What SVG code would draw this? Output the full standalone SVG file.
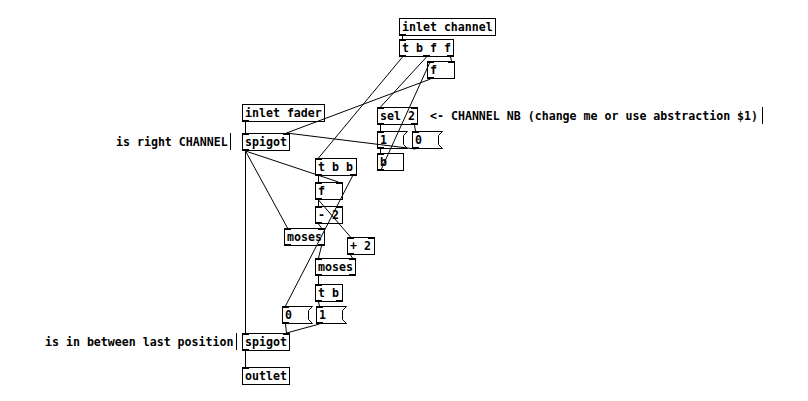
<svg xmlns="http://www.w3.org/2000/svg" width="808" height="401" viewBox="0 0 808 401">
<style>
.bx{fill:none;stroke:#000;stroke-width:1}
.io{fill:#000}
.t{font-family:"DejaVu Sans Mono","Liberation Mono",monospace;font-weight:bold;font-size:11.6px;fill:#000}
.c line{stroke:#000;stroke-width:1}
.bar{stroke:#000;stroke-width:1}
</style>
<rect width="808" height="401" fill="#fff"/>
<g class="c" id="connectors">
<line x1="402.5" y1="36" x2="402.5" y2="39"/>
<line x1="402.5" y1="57" x2="318.5" y2="158"/>
<line x1="426.5" y1="57" x2="380.5" y2="107"/>
<line x1="450.5" y1="57" x2="451.5" y2="61"/>
<line x1="430.5" y1="79" x2="286.5" y2="133"/>
<line x1="380.5" y1="171" x2="430.5" y2="61"/>
<line x1="245.5" y1="122" x2="245.5" y2="133"/>
<line x1="380.5" y1="125" x2="380.5" y2="131"/>
<line x1="414.5" y1="125" x2="415.5" y2="131"/>
<line x1="380.5" y1="149" x2="380.5" y2="153"/>
<line x1="415.5" y1="149" x2="286.5" y2="133"/>
<line x1="245.5" y1="151" x2="245.5" y2="333"/>
<line x1="245.5" y1="151" x2="287.5" y2="228"/>
<line x1="245.5" y1="151" x2="338.5" y2="182"/>
<line x1="318.5" y1="176" x2="318.5" y2="182"/>
<line x1="352.5" y1="176" x2="285.5" y2="306"/>
<line x1="318.5" y1="200" x2="318.5" y2="206"/>
<line x1="318.5" y1="200" x2="350.5" y2="237"/>
<line x1="318.5" y1="224" x2="321.5" y2="228"/>
<line x1="321.5" y1="246" x2="318.5" y2="258"/>
<line x1="350.5" y1="255" x2="352.5" y2="258"/>
<line x1="318.5" y1="276" x2="318.5" y2="284"/>
<line x1="318.5" y1="302" x2="319.5" y2="306"/>
<line x1="285.5" y1="324" x2="286.5" y2="333"/>
<line x1="319.5" y1="324" x2="286.5" y2="333"/>
<line x1="245.5" y1="351" x2="245.5" y2="367"/>
</g>
<g id="inlet_channel"><rect class="bx" x="399.5" y="18.5" width="96" height="17"/><rect class="io" x="399" y="34" width="7" height="2"/><text class="t" x="402" y="31">inlet channel</text></g>
<g id="t_bff"><rect class="bx" x="399.5" y="39.5" width="54" height="17"/><rect class="io" x="399" y="39" width="7" height="2"/><rect class="io" x="399" y="55" width="7" height="2"/><rect class="io" x="423" y="55" width="7" height="2"/><rect class="io" x="447" y="55" width="7" height="2"/><text class="t" x="402" y="52">t b f f</text></g>
<g id="f_top"><rect class="bx" x="427.5" y="61.5" width="27" height="17"/><rect class="io" x="427" y="61" width="7" height="2"/><rect class="io" x="448" y="61" width="7" height="2"/><rect class="io" x="427" y="77" width="7" height="2"/><text class="t" x="430" y="74">f</text></g>
<g id="inlet_fader"><rect class="bx" x="242.5" y="104.5" width="82" height="17"/><rect class="io" x="242" y="120" width="7" height="2"/><text class="t" x="245" y="117">inlet fader</text></g>
<g id="spigot_top"><rect class="bx" x="242.5" y="133.5" width="47" height="17"/><rect class="io" x="242" y="133" width="7" height="2"/><rect class="io" x="283" y="133" width="7" height="2"/><rect class="io" x="242" y="149" width="7" height="2"/><text class="t" x="245" y="146">spigot</text></g>
<g id="sel2"><rect class="bx" x="377.5" y="107.5" width="40" height="17"/><rect class="io" x="377" y="107" width="7" height="2"/><rect class="io" x="411" y="107" width="7" height="2"/><rect class="io" x="377" y="123" width="7" height="2"/><rect class="io" x="411" y="123" width="7" height="2"/><text class="t" x="380" y="120">sel 2</text></g>
<g id="msg1_top"><path class="bx" d="M377.5 131.5H407.5L403.5 135.5V144.5L407.5 148.5H377.5Z"/><rect class="io" x="377" y="131" width="7" height="2"/><rect class="io" x="377" y="147" width="7" height="2"/><text class="t" x="380" y="144">1</text></g>
<g id="msg0_top"><path class="bx" d="M412.5 131.5H442.5L438.5 135.5V144.5L442.5 148.5H412.5Z"/><rect class="io" x="412" y="131" width="7" height="2"/><rect class="io" x="412" y="147" width="7" height="2"/><text class="t" x="415" y="144">0</text></g>
<g id="bang"><rect class="bx" x="377.5" y="153.5" width="26" height="17"/><rect class="io" x="377" y="153" width="7" height="2"/><rect class="io" x="377" y="169" width="7" height="2"/><text class="t" x="380" y="166">b</text></g>
<g id="t_bb"><rect class="bx" x="315.5" y="158.5" width="41" height="17"/><rect class="io" x="315" y="158" width="7" height="2"/><rect class="io" x="315" y="174" width="7" height="2"/><rect class="io" x="350" y="174" width="7" height="2"/><text class="t" x="318" y="171">t b b</text></g>
<g id="f_mid"><rect class="bx" x="315.5" y="182.5" width="27" height="17"/><rect class="io" x="315" y="182" width="7" height="2"/><rect class="io" x="336" y="182" width="7" height="2"/><rect class="io" x="315" y="198" width="7" height="2"/><text class="t" x="318" y="195">f</text></g>
<g id="minus2"><rect class="bx" x="315.5" y="206.5" width="27" height="17"/><rect class="io" x="315" y="206" width="7" height="2"/><rect class="io" x="336" y="206" width="7" height="2"/><rect class="io" x="315" y="222" width="7" height="2"/><text class="t" x="318" y="219">- 2</text></g>
<g id="moses_left"><rect class="bx" x="284.5" y="228.5" width="40" height="17"/><rect class="io" x="284" y="228" width="7" height="2"/><rect class="io" x="318" y="228" width="7" height="2"/><rect class="io" x="284" y="244" width="7" height="2"/><rect class="io" x="318" y="244" width="7" height="2"/><text class="t" x="287" y="241">moses</text></g>
<g id="plus2"><rect class="bx" x="347.5" y="237.5" width="27" height="17"/><rect class="io" x="347" y="237" width="7" height="2"/><rect class="io" x="368" y="237" width="7" height="2"/><rect class="io" x="347" y="253" width="7" height="2"/><text class="t" x="350" y="250">+ 2</text></g>
<g id="moses_mid"><rect class="bx" x="315.5" y="258.5" width="40" height="17"/><rect class="io" x="315" y="258" width="7" height="2"/><rect class="io" x="349" y="258" width="7" height="2"/><rect class="io" x="315" y="274" width="7" height="2"/><rect class="io" x="349" y="274" width="7" height="2"/><text class="t" x="318" y="271">moses</text></g>
<g id="t_b"><rect class="bx" x="315.5" y="284.5" width="27" height="17"/><rect class="io" x="315" y="284" width="7" height="2"/><rect class="io" x="315" y="300" width="7" height="2"/><rect class="io" x="336" y="300" width="7" height="2"/><text class="t" x="318" y="297">t b</text></g>
<g id="msg0_bot"><path class="bx" d="M282.5 306.5H312.5L308.5 310.5V319.5L312.5 323.5H282.5Z"/><rect class="io" x="282" y="306" width="7" height="2"/><rect class="io" x="282" y="322" width="7" height="2"/><text class="t" x="285" y="319">0</text></g>
<g id="msg1_bot"><path class="bx" d="M316.5 306.5H346.5L342.5 310.5V319.5L346.5 323.5H316.5Z"/><rect class="io" x="316" y="306" width="7" height="2"/><rect class="io" x="316" y="322" width="7" height="2"/><text class="t" x="319" y="319">1</text></g>
<g id="spigot_bot"><rect class="bx" x="242.5" y="333.5" width="47" height="17"/><rect class="io" x="242" y="333" width="7" height="2"/><rect class="io" x="283" y="333" width="7" height="2"/><rect class="io" x="242" y="349" width="7" height="2"/><text class="t" x="245" y="346">spigot</text></g>
<g id="outlet"><rect class="bx" x="242.5" y="367.5" width="47" height="17"/><rect class="io" x="242" y="367" width="7" height="2"/><text class="t" x="245" y="380">outlet</text></g>
<g id="comment_right_channel"><text class="t" x="116" y="146">is right CHANNEL</text><line class="bar" x1="230.5" y1="133" x2="230.5" y2="150"/></g>
<g id="comment_between"><text class="t" x="45" y="346">is in between last position</text><line class="bar" x1="236.5" y1="333" x2="236.5" y2="350"/></g>
<g id="comment_channel_nb"><text class="t" x="430" y="120">&lt;- CHANNEL NB (change me or use abstraction $1)</text><line class="bar" x1="762.5" y1="107" x2="762.5" y2="124"/></g>
</svg>
